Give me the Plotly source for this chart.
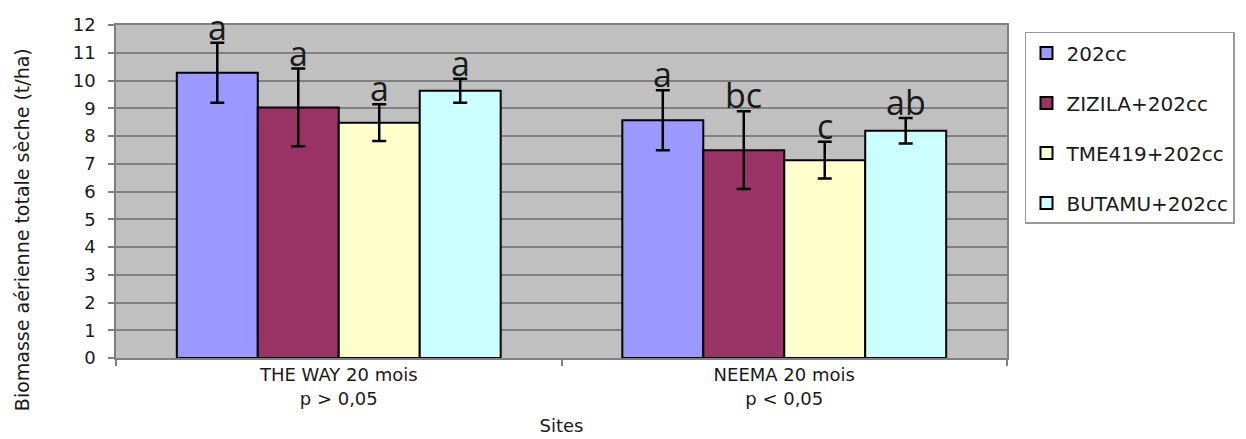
import plotly.graph_objects as go

sites = ["THE WAY 20 mois<br>p > 0,05", "NEEMA 20 mois<br>p < 0,05"]
series_names = ["202cc", "ZIZILA+202cc", "TME419+202cc", "BUTAMU+202cc"]
colors = ["#9999FF", "#993366", "#FFFFCC", "#CCFFFF"]

v_202cc = [10.28, 8.57]
v_zizila = [9.03, 7.49]
v_tme419 = [8.48, 7.13]
v_butamu = [9.63, 8.19]

e_202cc = [1.08, 1.08]
e_zizila = [1.40, 1.40]
e_tme419 = [0.66, 0.66]
e_butamu = [0.43, 0.46]

l_202cc = ["a", "a"]
l_zizila = ["a", "bc"]
l_tme419 = ["a", "c"]
l_butamu = ["a", "ab"]

values = [v_202cc, v_zizila, v_tme419, v_butamu]
errors = [e_202cc, e_zizila, e_tme419, e_butamu]
letters = [l_202cc, l_zizila, l_tme419, l_butamu]

y_ticks = list(range(0, 13))

FONT = "DejaVu Sans, Verdana, sans-serif"
TXT = "#1a1a1a"
BARGAP = 0.273

fig = go.Figure()
for j, name in enumerate(series_names):
    fig.add_trace(go.Bar(
        name=name, x=sites, y=values[j],
        legendgroup=name,
        marker=dict(color=colors[j], line=dict(color="black", width=2)),
        error_y=dict(type="data", array=errors[j], visible=True,
                     color="black", thickness=2.5, width=7),
    ))

bw = (1 - BARGAP) / len(series_names)
annotations = []
for j in range(len(series_names)):
    for i in range(len(sites)):
        annotations.append(dict(
            x=i + (j - (len(series_names) - 1) / 2) * bw,
            y=values[j][i] + errors[j][i],
            xref="x", yref="y", text=letters[j][i], showarrow=False,
            yanchor="bottom", yshift=-9,
            font=dict(family="Open Sans, sans-serif", size=34, color=TXT),
        ))

annotations.append(dict(
    x=-0.1055, y=0.387, xref="paper", yref="paper",
    text="Biomasse aérienne totale sèche (t/ha)", textangle=-90,
    showarrow=False, xanchor="center", yanchor="middle",
    font=dict(family=FONT, size=19, color=TXT),
))

fig.update_layout(
    width=1238, height=431,
    margin=dict(l=108, r=239, t=17, b=81, autoexpand=False),
    paper_bgcolor="white", plot_bgcolor="#C0C0C0",
    barmode="group", bargap=BARGAP, bargroupgap=0,
    font=dict(family=FONT, size=18, color=TXT),
    showlegend=True,
    legend=dict(x=1.0202, y=0.979, xanchor="left", yanchor="top",
                bgcolor="white", bordercolor="#999999", borderwidth=1.5,
                font=dict(size=20, color=TXT), tracegroupgap=21,
                traceorder="grouped", itemwidth=30),
    annotations=annotations,
)
fig.update_yaxes(
    range=[0, 12], tickvals=y_ticks, ticktext=[str(t) for t in y_ticks],
    showgrid=True, gridcolor="#808080", gridwidth=1.5,
    showline=True, linecolor="#808080", linewidth=1.5, mirror=True,
    ticks="outside", ticklen=6, tickcolor="#808080", tickwidth=1.5,
    tickfont=dict(size=18), ticklabelstandoff=9,
    zeroline=False, automargin=False,
)
fig.update_xaxes(
    showline=True, linecolor="#808080", linewidth=1.5, mirror=True,
    ticks="outside", ticklen=6, tickcolor="#808080", tickwidth=1.5,
    tickson="boundaries",
    tickfont=dict(size=18), automargin=False,
    title=dict(text="Sites", font=dict(size=18), standoff=12),
)

fig.write_html("out.html")
